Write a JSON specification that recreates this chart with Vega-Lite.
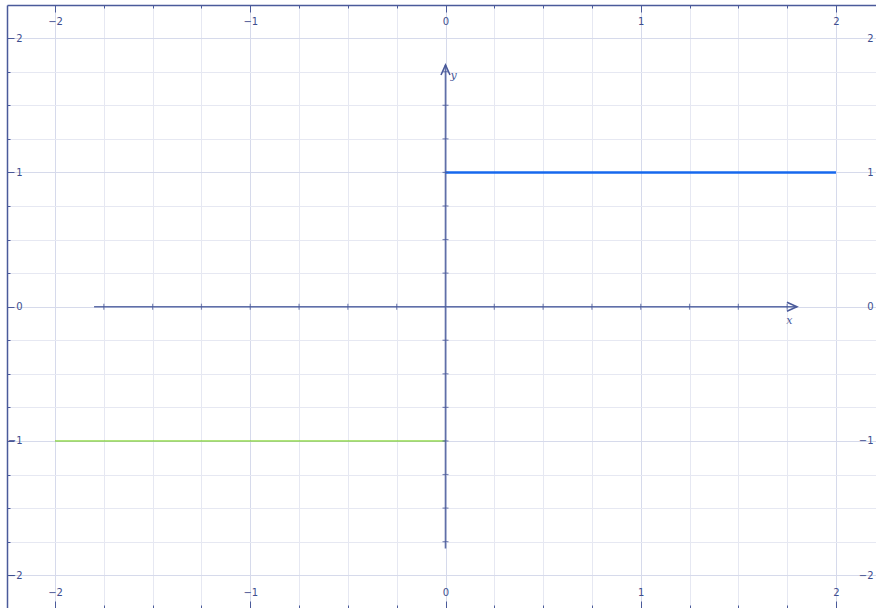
{
  "$schema": "https://vega.github.io/schema/vega-lite/v6.json",
  "width": 869,
  "height": 603,
  "padding": {"left": 7, "top": 5, "right": 0, "bottom": 0},
  "autosize": {"type": "none"},
  "background": "white",
  "config": {
    "view": {"stroke": null},
    "axis": {
      "labelFont": "DejaVu Sans",
      "labelFontSize": 10,
      "labelColor": "#3d4e8e",
      "tickColor": "#4a5a9a",
      "domainColor": "#4a5a9a",
      "domainWidth": 1.5,
      "title": null,
      "labelFlush": false,
      "labelOverlap": false
    }
  },
  "datasets": {
    "segments": [
      {"series": "f", "x": 0, "y": 1, "x2": 2, "y2": 1},
      {"series": "g", "x": -2, "y": -1, "x2": 0, "y2": -1}
    ],
    "axislines": [
      {"axis": "x", "x": -1.8, "y": 0, "x2": 1.8, "y2": 0},
      {"axis": "y", "x": 0, "y": -1.8, "x2": 0, "y2": 1.8}
    ],
    "ticks": [
      {"v": -1.75}, {"v": -1.5}, {"v": -1.25}, {"v": -1}, {"v": -0.75}, {"v": -0.5}, {"v": -0.25},
      {"v": 0.25}, {"v": 0.5}, {"v": 0.75}, {"v": 1}, {"v": 1.25}, {"v": 1.5}, {"v": 1.75}
    ],
    "arrows": [{"x": 1.8, "y": 0}],
    "arrowsUp": [{"x": 0, "y": 1.8}],
    "names": [
      {"name": "x", "x": 1.745, "y": -0.11},
      {"name": "y", "x": 0.025, "y": 1.72}
    ]
  },
  "layer": [
    {
      "data": {"name": "segments"},
      "transform": [{"filter": "datum.series === 'g'"}],
      "mark": {"type": "rule", "color": "#66cc00", "strokeWidth": 1},
      "encoding": {
        "x": {
          "field": "x", "type": "quantitative",
          "scale": {"domain": [-2.246, 2.205], "nice": false, "zero": false},
          "axis": {
            "orient": "bottom",
            "values": [-2, -1.75, -1.5, -1.25, -1, -0.75, -0.5, -0.25, 0, 0.25, 0.5, 0.75, 1, 1.25, 1.5, 1.75, 2],
            "grid": true,
            "gridColor": {"condition": {"test": "datum.value % 1 === 0", "value": "#d6daeb"}, "value": "#e6e8f2"},
            "domain": false,
            "tickSize": {"condition": {"test": "datum.value % 1 === 0", "value": -7}, "value": -3},
            "labelExpr": "datum.value % 1 === 0 ? format(datum.value, 'd') : ''",
            "labelBaseline": "middle",
            "labelPadding": -9
          }
        },
        "x2": {"field": "x2"},
        "y": {
          "field": "y", "type": "quantitative",
          "scale": {"domain": [-2.244, 2.247], "nice": false, "zero": false},
          "axis": {
            "orient": "left",
            "values": [-2, -1.75, -1.5, -1.25, -1, -0.75, -0.5, -0.25, 0, 0.25, 0.5, 0.75, 1, 1.25, 1.5, 1.75, 2],
            "grid": true,
            "gridColor": {"condition": {"test": "datum.value % 1 === 0", "value": "#d6daeb"}, "value": "#e6e8f2"},
            "domain": true,
            "tickSize": {"condition": {"test": "datum.value % 1 === 0", "value": -7}, "value": -3},
            "labelExpr": "datum.value % 1 === 0 ? format(datum.value, 'd') : ''",
            "labelAlign": "right",
            "labelBaseline": "middle",
            "labelPadding": -8
          }
        },
        "y2": {"field": "y2"}
      }
    },
    {
      "data": {"name": "axislines"},
      "mark": {"type": "rule", "color": "#4f5f9f", "strokeWidth": 1.6, "opacity": 0.9},
      "encoding": {
        "x": {
          "field": "x", "type": "quantitative",
          "axis": {
            "orient": "top",
            "values": [-2, -1.75, -1.5, -1.25, -1, -0.75, -0.5, -0.25, 0, 0.25, 0.5, 0.75, 1, 1.25, 1.5, 1.75, 2],
            "grid": false,
            "domain": true,
            "tickSize": {"condition": {"test": "datum.value % 1 === 0", "value": -7}, "value": -3},
            "labelExpr": "datum.value % 1 === 0 ? format(datum.value, 'd') : ''",
            "labelBaseline": "middle",
            "labelPadding": -9
          }
        },
        "x2": {"field": "x2"},
        "y": {
          "field": "y", "type": "quantitative",
          "axis": {
            "orient": "right",
            "values": [-2, -1, 0, 1, 2],
            "grid": false,
            "domain": false,
            "ticks": false,
            "labelExpr": "format(datum.value, 'd')",
            "labelAlign": "right",
            "labelBaseline": "middle",
            "labelPadding": -3
          }
        },
        "y2": {"field": "y2"}
      }
    },
    {
      "data": {"name": "segments"},
      "transform": [{"filter": "datum.series === 'f'"}],
      "mark": {"type": "rule", "color": "#1668ee", "strokeWidth": 2.6},
      "encoding": {
        "x": {"field": "x", "type": "quantitative", "axis": null},
        "x2": {"field": "x2"},
        "y": {"field": "y", "type": "quantitative", "axis": null},
        "y2": {"field": "y2"}
      }
    },
    {
      "data": {"name": "ticks"},
      "mark": {"type": "tick", "orient": "vertical", "size": 6, "thickness": 1.2, "color": "#4a5a9a"},
      "encoding": {
        "x": {"field": "v", "type": "quantitative", "axis": null},
        "y": {"datum": 0, "type": "quantitative", "axis": null}
      }
    },
    {
      "data": {"name": "ticks"},
      "mark": {"type": "tick", "orient": "horizontal", "size": 6, "thickness": 1.2, "color": "#4a5a9a"},
      "encoding": {
        "x": {"datum": 0, "type": "quantitative", "axis": null},
        "y": {"field": "v", "type": "quantitative", "axis": null}
      }
    },
    {
      "data": {"name": "arrows"},
      "mark": {"type": "point", "shape": "M-2,-0.9L0,0L-2,0.9", "size": 100, "filled": false, "stroke": "#4a5a9a", "strokeWidth": 1.6, "opacity": 1},
      "encoding": {
        "x": {"field": "x", "type": "quantitative", "axis": null},
        "y": {"field": "y", "type": "quantitative", "axis": null}
      }
    },
    {
      "data": {"name": "arrowsUp"},
      "mark": {"type": "point", "shape": "M-0.9,2L0,0L0.9,2", "size": 100, "filled": false, "stroke": "#4a5a9a", "strokeWidth": 1.6, "opacity": 1},
      "encoding": {
        "x": {"field": "x", "type": "quantitative", "axis": null},
        "y": {"field": "y", "type": "quantitative", "axis": null}
      }
    },
    {
      "data": {"name": "names"},
      "mark": {"type": "text", "font": "DejaVu Serif", "fontStyle": "italic", "fontSize": 11, "color": "#4a5a9a", "align": "left", "baseline": "middle"},
      "encoding": {
        "x": {"field": "x", "type": "quantitative", "axis": null},
        "y": {"field": "y", "type": "quantitative", "axis": null},
        "text": {"field": "name"}
      }
    }
  ],
  "resolve": {"axis": {"x": "independent", "y": "independent"}}
}
